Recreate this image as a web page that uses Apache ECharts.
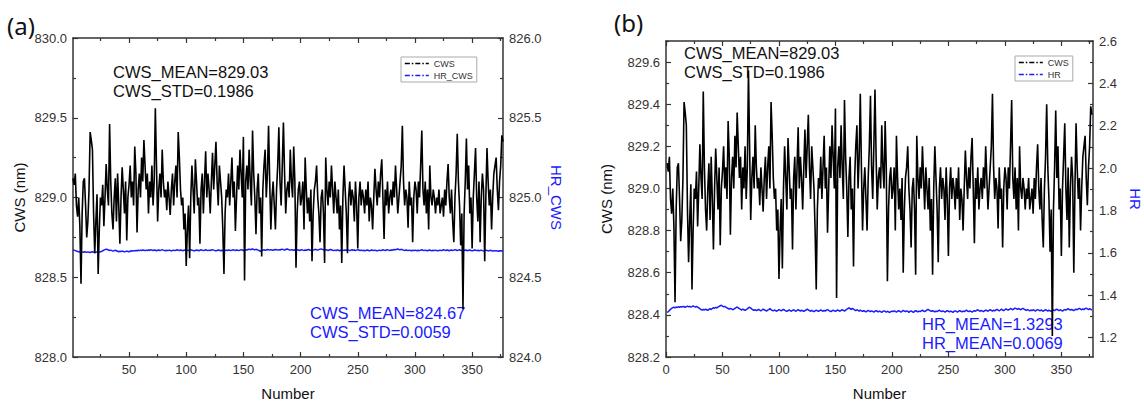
<!DOCTYPE html>
<html>
<head>
<meta charset="utf-8">
<script src="https://cdn.jsdelivr.net/npm/echarts@6/dist/echarts.min.js"></script>
<style>
  html, body { margin: 0; padding: 0; background: #fff; }
  #chart { width: 1144px; height: 406px; }
</style>
</head>
<body>
<div id="chart"></div>
<script>
// CWS readings (nm), same trace in both panels, index 1..377
const cws = [
  829.12,829.08,829.15,828.95,828.88,829.0,828.82,828.46,828.9,829.1,
  829.12,828.95,828.75,828.85,829.05,829.41,829.36,829.3,828.9,828.65,
  828.85,829.02,828.52,828.8,829.0,828.95,829.08,828.82,829.0,829.21,
  829.05,828.95,829.46,829.1,828.9,828.8,829.0,829.12,828.85,829.15,
  828.95,828.71,829.0,829.19,829.05,828.9,829.1,828.73,829.0,829.08,
  829.2,829.0,829.1,828.95,829.32,829.15,828.78,829.05,829.15,829.0,
  829.25,829.1,829.36,829.2,829.05,829.15,828.9,829.1,829.0,829.2,
  828.95,829.1,829.56,829.2,828.85,829.05,829.15,829.0,829.3,829.1,
  829.0,829.05,828.92,829.1,829.0,828.89,829.05,829.15,828.95,829.1,
  829.2,829.0,829.41,829.25,829.05,828.95,829.0,828.8,828.9,828.57,
  828.8,828.95,828.62,829.0,829.2,829.05,828.9,829.24,829.1,828.95,
  829.0,828.71,829.05,829.15,828.9,829.1,829.29,829.0,829.15,829.05,
  828.9,829.1,829.28,829.05,829.2,829.35,829.1,828.95,829.2,829.1,
  829.0,828.8,828.52,828.9,829.05,829.0,829.15,828.95,829.1,829.25,
  829.0,829.1,828.79,829.0,829.2,829.05,829.3,829.15,829.0,829.38,
  828.48,829.1,829.2,829.05,829.3,829.1,828.95,829.42,829.15,829.0,
  828.77,829.05,829.15,828.9,829.0,828.63,829.05,829.2,829.3,829.0,
  829.15,829.45,829.1,828.8,829.0,829.1,828.95,828.8,829.05,829.2,
  829.44,829.1,828.95,829.2,829.47,829.15,828.9,829.05,829.1,829.0,
  829.3,829.1,829.0,829.32,829.1,828.56,828.9,829.05,829.1,828.95,
  829.0,829.1,828.8,829.25,829.05,828.9,829.0,828.85,829.05,828.6,
  828.9,829.05,829.1,829.2,829.0,828.9,828.72,829.0,829.05,828.9,
  828.59,829.25,829.05,828.95,829.1,829.0,829.2,829.05,828.9,829.1,
  829.0,828.9,829.05,828.8,828.95,828.59,829.0,829.2,829.05,828.9,
  828.65,829.0,829.1,828.95,829.05,829.0,828.85,829.1,828.95,828.68,
  829.0,829.1,828.95,829.05,829.0,828.9,829.05,828.95,829.1,828.85,
  829.0,828.95,828.8,829.0,829.18,829.05,828.95,829.1,829.0,829.15,
  829.24,829.0,828.74,829.05,828.95,829.1,828.9,829.0,829.05,828.95,
  829.1,829.0,829.2,829.05,828.9,829.0,829.1,829.2,829.45,829.1,
  828.95,829.05,829.0,828.81,829.1,828.95,829.0,828.72,829.0,829.1,
  829.05,828.9,829.1,829.0,829.2,829.42,829.05,828.95,829.1,828.9,
  829.05,828.8,829.2,829.0,828.95,829.05,829.0,828.9,829.0,828.95,
  829.05,828.9,828.95,829.0,828.88,829.05,828.95,829.1,829.21,829.0,
  828.9,829.05,828.85,828.72,829.0,829.15,829.4,829.1,828.95,828.7,
  828.9,828.3,828.9,829.1,829.37,829.05,829.2,828.9,829.0,828.68,
  829.0,829.15,829.31,829.0,828.85,829.1,828.72,829.0,829.15,829.05,
  828.6,829.0,829.31,829.1,828.95,829.05,828.8,829.0,829.15,829.2,
  829.25,829.05,828.92,829.1,829.2,829.39,829.35
];

// HR_CWS, panel (a), right axis
const hrCws = [
  824.672,824.670,824.667,824.664,824.662,824.660,824.658,824.661,824.659,824.657,
  824.660,824.658,824.656,824.659,824.657,824.655,824.658,824.660,824.657,824.655,
  824.657,824.659,824.656,824.658,824.660,824.662,824.666,824.670,824.673,824.676,
  824.674,824.671,824.668,824.670,824.667,824.664,824.667,824.669,824.666,824.663,
  824.660,824.663,824.661,824.664,824.662,824.659,824.661,824.664,824.662,824.660,
  824.663,824.666,824.664,824.667,824.665,824.668,824.666,824.669,824.667,824.670,
  824.668,824.671,824.669,824.667,824.670,824.668,824.671,824.669,824.672,824.670,
  824.668,824.671,824.669,824.666,824.669,824.671,824.668,824.670,824.673,824.670,
  824.668,824.666,824.669,824.667,824.670,824.668,824.665,824.668,824.670,824.667,
  824.669,824.672,824.670,824.668,824.671,824.669,824.666,824.669,824.671,824.668,
  824.670,824.667,824.669,824.672,824.670,824.668,824.665,824.668,824.671,824.669,
  824.666,824.669,824.672,824.670,824.667,824.669,824.672,824.669,824.667,824.670,
  824.668,824.671,824.673,824.670,824.668,824.665,824.668,824.671,824.669,824.666,
  824.669,824.667,824.664,824.667,824.670,824.668,824.671,824.669,824.667,824.670,
  824.672,824.670,824.668,824.671,824.669,824.667,824.670,824.673,824.671,824.668,
  824.670,824.673,824.671,824.674,824.676,824.673,824.675,824.677,824.674,824.672,
  824.675,824.673,824.670,824.666,824.663,824.667,824.670,824.672,824.669,824.671,
  824.674,824.672,824.670,824.673,824.671,824.669,824.672,824.674,824.672,824.670,
  824.673,824.671,824.674,824.676,824.673,824.671,824.674,824.677,824.675,824.672,
  824.670,824.673,824.671,824.669,824.672,824.670,824.673,824.671,824.668,824.671,
  824.673,824.670,824.668,824.671,824.669,824.672,824.674,824.671,824.669,824.672,
  824.670,824.673,824.675,824.672,824.670,824.673,824.676,824.678,824.675,824.672,
  824.670,824.673,824.671,824.668,824.671,824.674,824.672,824.669,824.667,824.670,
  824.668,824.671,824.669,824.666,824.669,824.672,824.670,824.668,824.671,824.669,
  824.672,824.670,824.667,824.670,824.672,824.669,824.671,824.668,824.670,824.673,
  824.671,824.668,824.670,824.667,824.669,824.666,824.668,824.671,824.669,824.666,
  824.668,824.671,824.669,824.667,824.670,824.668,824.665,824.668,824.670,824.667,
  824.669,824.672,824.670,824.668,824.671,824.673,824.670,824.668,824.671,824.669,
  824.672,824.674,824.672,824.675,824.677,824.674,824.672,824.675,824.673,824.670,
  824.668,824.671,824.669,824.667,824.670,824.668,824.666,824.669,824.667,824.670,
  824.668,824.666,824.669,824.667,824.670,824.672,824.669,824.667,824.670,824.668,
  824.666,824.669,824.671,824.668,824.666,824.669,824.667,824.670,824.668,824.665,
  824.668,824.670,824.667,824.669,824.672,824.670,824.668,824.671,824.669,824.666,
  824.669,824.671,824.668,824.670,824.673,824.671,824.668,824.670,824.672,824.669,
  824.667,824.670,824.668,824.671,824.669,824.666,824.669,824.671,824.668,824.666,
  824.668,824.671,824.669,824.667,824.669,824.666,824.668,824.670,824.667,824.665,
  824.667,824.670,824.668,824.665,824.667,824.669,824.666,824.664,824.667,824.665,
  824.667,824.665,824.663,824.666,824.664,824.666,824.665
];

// HR, panel (b), right axis
const hr = [
  1.318,1.322,1.328,1.333,1.338,1.341,1.343,1.340,1.344,1.342,
  1.345,1.343,1.346,1.344,1.347,1.345,1.343,1.346,1.348,1.345,
  1.347,1.344,1.346,1.349,1.346,1.344,1.347,1.343,1.340,1.336,
  1.332,1.329,1.333,1.330,1.334,1.331,1.328,1.333,1.336,1.332,
  1.337,1.341,1.338,1.343,1.339,1.344,1.347,1.350,1.352,1.348,
  1.345,1.347,1.343,1.340,1.337,1.334,1.338,1.335,1.331,1.334,
  1.337,1.341,1.344,1.340,1.336,1.333,1.330,1.334,1.331,1.328,
  1.332,1.335,1.340,1.343,1.339,1.334,1.331,1.328,1.331,1.327,
  1.330,1.333,1.329,1.326,1.330,1.334,1.331,1.328,1.325,1.329,
  1.332,1.336,1.332,1.328,1.326,1.330,1.327,1.324,1.328,1.332,
  1.329,1.326,1.330,1.333,1.329,1.326,1.323,1.327,1.330,1.327,
  1.324,1.328,1.331,1.327,1.324,1.328,1.331,1.328,1.325,1.329,
  1.326,1.323,1.327,1.330,1.334,1.330,1.327,1.324,1.328,1.325,
  1.322,1.326,1.329,1.326,1.323,1.327,1.330,1.327,1.324,1.328,
  1.325,1.329,1.332,1.328,1.325,1.322,1.326,1.329,1.326,1.323,
  1.327,1.330,1.327,1.324,1.328,1.331,1.328,1.325,1.329,1.333,
  1.337,1.340,1.336,1.332,1.338,1.334,1.330,1.327,1.331,1.328,
  1.325,1.329,1.326,1.323,1.327,1.324,1.321,1.325,1.328,1.325,
  1.322,1.326,1.323,1.320,1.324,1.327,1.324,1.321,1.325,1.322,
  1.319,1.323,1.326,1.323,1.320,1.324,1.321,1.318,1.322,1.325,
  1.322,1.326,1.323,1.320,1.324,1.327,1.323,1.320,1.324,1.328,
  1.325,1.322,1.326,1.323,1.319,1.323,1.326,1.322,1.319,1.323,
  1.327,1.324,1.321,1.325,1.322,1.326,1.329,1.325,1.322,1.326,
  1.330,1.333,1.329,1.326,1.323,1.327,1.324,1.321,1.325,1.322,
  1.326,1.329,1.325,1.322,1.326,1.323,1.320,1.324,1.327,1.324,
  1.321,1.325,1.322,1.319,1.323,1.326,1.323,1.320,1.324,1.327,
  1.324,1.321,1.325,1.322,1.326,1.329,1.325,1.322,1.326,1.323,
  1.320,1.324,1.327,1.324,1.328,1.331,1.327,1.324,1.328,1.325,
  1.322,1.326,1.330,1.327,1.324,1.328,1.332,1.328,1.325,1.329,
  1.326,1.330,1.333,1.329,1.326,1.330,1.334,1.330,1.327,1.331,
  1.335,1.332,1.329,1.333,1.337,1.334,1.331,1.335,1.339,1.336,
  1.333,1.337,1.334,1.331,1.335,1.338,1.334,1.331,1.328,1.332,
  1.329,1.326,1.330,1.327,1.331,1.328,1.325,1.329,1.332,1.329,
  1.326,1.330,1.327,1.324,1.328,1.331,1.328,1.325,1.329,1.326,
  1.323,1.327,1.330,1.327,1.331,1.334,1.330,1.327,1.331,1.328,
  1.325,1.329,1.332,1.329,1.333,1.336,1.332,1.329,1.333,1.330,
  1.327,1.331,1.334,1.331,1.335,1.338,1.334,1.331,1.335,1.332,
  1.336,1.339,1.335,1.332,1.336,1.333,1.330
];

// tick values
const xTicksA = [50, 100, 150, 200, 250, 300, 350];
const xMinorA = [25, 75, 125, 175, 225, 275, 325, 375];
const xTicksB = [0, 50, 100, 150, 200, 250, 300, 350];
const xMinorB = [25, 75, 125, 175, 225, 275, 325, 375];
const yTicksA = [828.0, 828.5, 829.0, 829.5, 830.0];
const yMinorA = [828.25, 828.75, 829.25, 829.75];
const y2TicksA = [824.0, 824.5, 825.0, 825.5, 826.0];
const y2MinorA = [824.25, 824.75, 825.25, 825.75];
const yTicksB = [828.2, 828.4, 828.6, 828.8, 829.0, 829.2, 829.4, 829.6];
const yMinorB = [828.3, 828.5, 828.7, 828.9, 829.1, 829.3, 829.5, 829.7];
const y2TicksB = [1.2, 1.4, 1.6, 1.8, 2.0, 2.2, 2.4, 2.6];
const y2MinorB = [1.3, 1.5, 1.7, 1.9, 2.1, 2.3, 2.5];

const FONT = '"Liberation Sans", Arial, sans-serif';
const BLUE = '#1a1aff';
const AXIS = '#333';

function major(grid, pos, min, max, ticks, labels, digits) {
    return {
        type: 'value', gridIndex: grid, position: pos, min: min, max: max,
        splitLine: { show: false },
        axisLine: { show: true, onZero: false, lineStyle: { color: AXIS, width: 1.5 } },
        axisTick: { show: true, inside: true, length: 5, customValues: ticks,
            lineStyle: { color: AXIS, width: 1.2 } },
        axisLabel: { show: labels, customValues: ticks, margin: 6, color: '#333',
            fontFamily: FONT, fontSize: 13,
            formatter: function (v) { return digits ? v.toFixed(digits) : String(v); } }
    };
}
function minor(grid, pos, min, max, ticks) {
    return {
        type: 'value', gridIndex: grid, position: pos, min: min, max: max,
        splitLine: { show: false },
        axisLine: { show: false, onZero: false },
        axisTick: { show: true, inside: true, length: 3, customValues: ticks,
            lineStyle: { color: AXIS, width: 1.2 } },
        axisLabel: { show: false }
    };
}
function named(ax, name, gap, rot, color) {
    ax.name = name;
    ax.nameLocation = 'middle';
    ax.nameGap = gap;
    if (rot !== null) ax.nameRotate = rot;
    ax.nameTextStyle = { fontFamily: FONT, fontSize: 15, color: color };
    return ax;
}

const xAxes = [
    named(major(0, 'bottom', 1, 377, xTicksA, true, 0), 'Number', 29, null, '#111'),
    minor(0, 'bottom', 1, 377, xMinorA),
    major(0, 'top', 1, 377, xTicksA, false, 0),
    minor(0, 'top', 1, 377, xMinorA),
    named(major(1, 'bottom', 0, 378, xTicksB, true, 0), 'Number', 29, null, '#111'),
    minor(1, 'bottom', 0, 378, xMinorB),
    major(1, 'top', 0, 378, xTicksB, false, 0),
    minor(1, 'top', 0, 378, xMinorB)
];
const yAxes = [
    named(major(0, 'left', 828, 830, yTicksA, true, 1), 'CWS (nm)', 46, 90, '#111'),
    named(major(0, 'right', 824, 826, y2TicksA, true, 1), 'HR_CWS', 46, -90, BLUE),
    minor(0, 'left', 828, 830, yMinorA),
    minor(0, 'right', 824, 826, y2MinorA),
    named(major(1, 'left', 828.2, 829.7, yTicksB, true, 1), 'CWS (nm)', 52, 90, '#111'),
    named(major(1, 'right', 1.108, 2.6, y2TicksB, true, 1), 'HR', 35, -90, BLUE),
    minor(1, 'left', 828.2, 829.7, yMinorB),
    minor(1, 'right', 1.108, 2.6, y2MinorB)
];

function line(name, xi, yi, vals, color, width) {
    return {
        name: name, type: 'line', xAxisIndex: xi, yAxisIndex: yi,
        data: vals.map(function (v, i) { return [i + 1, v]; }),
        symbol: 'none', showSymbol: false,
        lineStyle: { color: color, width: width },
        itemStyle: { color: color }
    };
}

function legendBox(left, top, names) {
    return {
        left: left, top: top, orient: 'vertical', data: names,
        itemWidth: 24, itemHeight: 8, itemGap: 3, padding: [2, 4, 2, 3],
        borderColor: '#aaa', borderWidth: 1, backgroundColor: '#fff',
        itemStyle: { opacity: 0 },
        lineStyle: { type: [5, 2, 1.5, 2], width: 1.6 },
        textStyle: { fontFamily: FONT, fontSize: 9, color: '#333' },
        selectedMode: false
    };
}

function txt(x, y, s, size, color, font) {
    return { type: 'text', x: x, y: y,
        style: { text: s, fontSize: size, fontFamily: font || FONT, fill: color, verticalAlign: 'middle' } };
}

const chart = echarts.init(document.getElementById('chart'), null, { renderer: 'svg' });
chart.setOption({
    animation: false,
    backgroundColor: '#fff',
    grid: [
        { left: 73, top: 38, width: 430, height: 321.5 },
        { left: 666, top: 41, width: 427, height: 318.5 }
    ],
    xAxis: xAxes,
    yAxis: yAxes,
    legend: [
        legendBox(401, 57, ['CWS', 'HR_CWS']),
        legendBox(1015, 56, ['CWS', 'HR'])
    ],
    graphic: [
        txt(7, 25, '(a)', 24, '#111', '"Noto Sans", sans-serif'),
        txt(614, 22, '(b)', 24, '#111', '"Noto Sans", sans-serif'),
        txt(113, 72, 'CWS_MEAN=829.03', 16.5, '#111'),
        txt(113, 91, 'CWS_STD=0.1986', 16.5, '#111'),
        txt(310, 313, 'CWS_MEAN=824.67', 16.5, BLUE),
        txt(310, 332, 'CWS_STD=0.0059', 16.5, BLUE),
        txt(684, 53, 'CWS_MEAN=829.03', 16.5, '#111'),
        txt(684, 72, 'CWS_STD=0.1986', 16.5, '#111'),
        txt(922, 324, 'HR_MEAN=1.3293', 16.5, BLUE),
        txt(922, 343, 'HR_MEAN=0.0069', 16.5, BLUE)
    ],
    series: [
        line('HR_CWS', 0, 1, hrCws, BLUE, 1.5),
        line('CWS', 0, 0, cws, '#000', 1.6),
        line('HR', 4, 5, hr, BLUE, 1.5),
        line('CWS', 4, 4, cws, '#000', 1.6)
    ]
});
</script>
</body>
</html>
